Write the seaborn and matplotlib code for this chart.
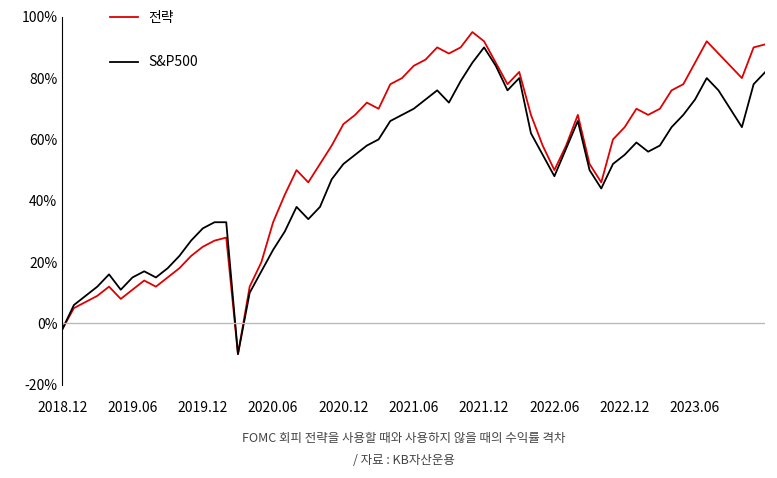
import pandas as pd
import matplotlib.pyplot as plt
import seaborn as sns

plt.rcParams["font.family"] = ["Noto Sans CJK JP", "Noto Sans CJK KR", "Noto Sans CJK SC", "DejaVu Sans"]

# monthly values, 2018.12 .. 2023.12 (%)
strategy = [-2,
            5, 7, 9, 12, 8, 11, 14, 12, 15, 18, 22, 25,
            27, 28, -10, 12, 20, 33, 42, 50, 46, 52, 58, 65,
            68, 72, 70, 78, 80, 84, 86, 90, 88, 90, 95, 92,
            85, 78, 82, 68, 58, 50, 58, 68, 52, 46, 60, 64,
            70, 68, 70, 76, 78, 85, 92, 88, 84, 80, 90, 91]
sp500 = [-2,
         6, 9, 12, 16, 11, 15, 17, 15, 18, 22, 27, 31,
         33, 33, -10, 10, 17, 24, 30, 38, 34, 38, 47, 52,
         55, 58, 60, 66, 68, 70, 73, 76, 72, 79, 85, 90,
         84, 76, 80, 62, 55, 48, 57, 66, 50, 44, 52, 55,
         59, 56, 58, 64, 68, 73, 80, 76, 70, 64, 78, 82]
tick_labels = ["2018.12", "2019.06", "2019.12", "2020.06", "2020.12",
               "2021.06", "2021.12", "2022.06", "2022.12", "2023.06"]

df = pd.DataFrame({"m": range(len(strategy)), "전략": strategy, "S&P500": sp500})
long = df.melt(id_vars="m", var_name="series", value_name="ret")

fig, ax = plt.subplots(figsize=(7.77, 4.78), dpi=100)
fig.subplots_adjust(left=0.08, right=0.985, top=0.965, bottom=0.195)
sns.lineplot(data=long, x="m", y="ret", hue="series",
             palette={"전략": "#e00000", "S&P500": "black"},
             hue_order=["전략", "S&P500"], linewidth=1.3, ax=ax)

ax.axhline(0, color="#bbbbbb", lw=1)
ax.set_xlim(0, 60)
ax.set_ylim(-20, 100)
ax.set_yticks(range(-20, 101, 20))
ax.set_yticklabels([f"{v}%" for v in range(-20, 101, 20)])
ax.set_xticks(range(0, 60, 6))
ax.set_xticklabels(tick_labels)
ax.tick_params(length=0, labelsize=10)
ax.tick_params(axis="x", pad=12)
for s in ["top", "right", "bottom"]:
    ax.spines[s].set_visible(False)
ax.set_xlabel("")
ax.set_ylabel("")
ax.legend(frameon=False, loc="upper left", bbox_to_anchor=(0.05, 1.05),
          labelspacing=2.2, handlelength=2, fontsize=10)

fig.text(0.52, 0.075, "FOMC 회피 전략을 사용할 때와 사용하지 않을 때의 수익률 격차",
         ha="center", fontsize=9, color="#444444")
fig.text(0.52, 0.03, "/ 자료 : KB자산운용", ha="center", fontsize=9, color="#444444")

plt.savefig("out.png")
